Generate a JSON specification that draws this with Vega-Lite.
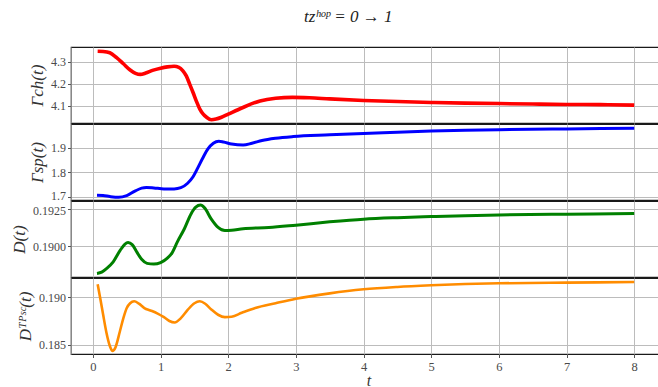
{
  "$schema": "https://vega.github.io/schema/vega-lite/v6.json",
  "padding": {"left": 9, "top": 8, "right": 0, "bottom": 0},
  "background": "white",
  "bounds": "flush",
  "title": {
    "text": "tzʰᵒᵖ = 0 → 1",
    "font": "Liberation Serif",
    "fontSize": 17,
    "fontWeight": "normal",
    "fontStyle": "italic",
    "color": "#222",
    "anchor": "middle",
    "offset": 20,
    "dx": 10
  },
  "datasets": {
    "gch": [
      {"t": 0.07, "v": 4.347}, {"t": 0.15, "v": 4.346}, {"t": 0.25, "v": 4.340}, {"t": 0.35, "v": 4.318},
      {"t": 0.45, "v": 4.290}, {"t": 0.55, "v": 4.262}, {"t": 0.63, "v": 4.247}, {"t": 0.70, "v": 4.242},
      {"t": 0.78, "v": 4.248}, {"t": 0.88, "v": 4.260}, {"t": 1.00, "v": 4.270}, {"t": 1.10, "v": 4.276},
      {"t": 1.20, "v": 4.279}, {"t": 1.27, "v": 4.274}, {"t": 1.33, "v": 4.258}, {"t": 1.38, "v": 4.235},
      {"t": 1.43, "v": 4.198}, {"t": 1.48, "v": 4.160}, {"t": 1.53, "v": 4.120}, {"t": 1.58, "v": 4.085},
      {"t": 1.63, "v": 4.062}, {"t": 1.68, "v": 4.048}, {"t": 1.75, "v": 4.037}, {"t": 1.82, "v": 4.040},
      {"t": 1.90, "v": 4.048}, {"t": 2.00, "v": 4.062}, {"t": 2.20, "v": 4.090}, {"t": 2.47, "v": 4.122},
      {"t": 2.70, "v": 4.134}, {"t": 2.95, "v": 4.138}, {"t": 3.20, "v": 4.136}, {"t": 3.50, "v": 4.131},
      {"t": 4.00, "v": 4.124}, {"t": 4.50, "v": 4.119}, {"t": 5.00, "v": 4.115}, {"t": 5.50, "v": 4.112},
      {"t": 6.00, "v": 4.110}, {"t": 6.50, "v": 4.108}, {"t": 7.00, "v": 4.106}, {"t": 7.50, "v": 4.105},
      {"t": 8.00, "v": 4.103}
    ],
    "gsp": [
      {"t": 0.06, "v": 1.707}, {"t": 0.15, "v": 1.706}, {"t": 0.25, "v": 1.702}, {"t": 0.38, "v": 1.699},
      {"t": 0.50, "v": 1.706}, {"t": 0.62, "v": 1.724}, {"t": 0.72, "v": 1.736}, {"t": 0.79, "v": 1.739},
      {"t": 0.90, "v": 1.737}, {"t": 1.05, "v": 1.733}, {"t": 1.20, "v": 1.733}, {"t": 1.30, "v": 1.738},
      {"t": 1.40, "v": 1.756}, {"t": 1.48, "v": 1.782}, {"t": 1.55, "v": 1.818}, {"t": 1.62, "v": 1.856},
      {"t": 1.70, "v": 1.895}, {"t": 1.78, "v": 1.918}, {"t": 1.86, "v": 1.926}, {"t": 1.93, "v": 1.923},
      {"t": 2.05, "v": 1.915}, {"t": 2.22, "v": 1.911}, {"t": 2.35, "v": 1.918}, {"t": 2.50, "v": 1.929},
      {"t": 2.70, "v": 1.938}, {"t": 2.96, "v": 1.945}, {"t": 3.50, "v": 1.952}, {"t": 4.00, "v": 1.958},
      {"t": 4.50, "v": 1.963}, {"t": 5.00, "v": 1.968}, {"t": 5.50, "v": 1.971}, {"t": 6.00, "v": 1.973},
      {"t": 7.00, "v": 1.976}, {"t": 8.00, "v": 1.979}
    ],
    "d": [
      {"t": 0.06, "v": 0.18818}, {"t": 0.13, "v": 0.18826}, {"t": 0.20, "v": 0.18850}, {"t": 0.30, "v": 0.18895},
      {"t": 0.40, "v": 0.18970}, {"t": 0.47, "v": 0.19012}, {"t": 0.52, "v": 0.19024}, {"t": 0.58, "v": 0.19010},
      {"t": 0.65, "v": 0.18960}, {"t": 0.72, "v": 0.18912}, {"t": 0.80, "v": 0.18885}, {"t": 0.90, "v": 0.18880},
      {"t": 1.00, "v": 0.18890}, {"t": 1.10, "v": 0.18920}, {"t": 1.17, "v": 0.18955}, {"t": 1.25, "v": 0.19030},
      {"t": 1.35, "v": 0.19114}, {"t": 1.45, "v": 0.19215}, {"t": 1.52, "v": 0.19260}, {"t": 1.59, "v": 0.19274},
      {"t": 1.65, "v": 0.19255}, {"t": 1.75, "v": 0.19180}, {"t": 1.85, "v": 0.19125}, {"t": 1.95, "v": 0.19104},
      {"t": 2.05, "v": 0.19106}, {"t": 2.22, "v": 0.19116}, {"t": 2.60, "v": 0.19124}, {"t": 3.00, "v": 0.19140},
      {"t": 3.50, "v": 0.19162}, {"t": 4.00, "v": 0.19180}, {"t": 4.50, "v": 0.19190}, {"t": 5.00, "v": 0.19197},
      {"t": 5.50, "v": 0.19203}, {"t": 6.00, "v": 0.19208}, {"t": 7.00, "v": 0.19213}, {"t": 8.00, "v": 0.19217}
    ],
    "dtpsc": [
      {"t": 0.07, "v": 0.19132}, {"t": 0.11, "v": 0.18980}, {"t": 0.15, "v": 0.18820}, {"t": 0.20, "v": 0.18628},
      {"t": 0.25, "v": 0.18490}, {"t": 0.29, "v": 0.18438}, {"t": 0.33, "v": 0.18470}, {"t": 0.40, "v": 0.18646},
      {"t": 0.45, "v": 0.18780}, {"t": 0.50, "v": 0.18885}, {"t": 0.55, "v": 0.18935}, {"t": 0.61, "v": 0.18955},
      {"t": 0.68, "v": 0.18930}, {"t": 0.76, "v": 0.18885}, {"t": 0.85, "v": 0.18860}, {"t": 0.95, "v": 0.18830},
      {"t": 1.05, "v": 0.18790}, {"t": 1.13, "v": 0.18750}, {"t": 1.21, "v": 0.18735}, {"t": 1.30, "v": 0.18780},
      {"t": 1.40, "v": 0.18865}, {"t": 1.50, "v": 0.18935}, {"t": 1.58, "v": 0.18955}, {"t": 1.66, "v": 0.18930},
      {"t": 1.75, "v": 0.18870}, {"t": 1.85, "v": 0.18815}, {"t": 1.95, "v": 0.18790}, {"t": 2.05, "v": 0.18795},
      {"t": 2.20, "v": 0.18835}, {"t": 2.40, "v": 0.18885}, {"t": 2.70, "v": 0.18935}, {"t": 3.00, "v": 0.18982},
      {"t": 3.50, "v": 0.19038}, {"t": 4.00, "v": 0.19080}, {"t": 4.50, "v": 0.19105}, {"t": 5.00, "v": 0.19122},
      {"t": 5.50, "v": 0.19135}, {"t": 6.00, "v": 0.19143}, {"t": 7.00, "v": 0.19150}, {"t": 8.00, "v": 0.19156}
    ]
  },
  "spacing": 1,
  "vconcat": [
    {
      "width": 595,
      "height": 76,
      "data": {"name": "gch"},
      "mark": {"type": "line", "color": "#ff0000", "strokeWidth": 3.6, "interpolate": "monotone", "clip": true},
      "encoding": {
        "x": {"field": "t", "type": "quantitative",
              "scale": {"domain": [-0.324, 8.47], "nice": false, "zero": false},
              "axis": {"values": [0, 1, 2, 3, 4, 5, 6, 7, 8], "labels": false, "ticks": false, "domain": false, "title": null}},
        "y": {"field": "v", "type": "quantitative",
              "scale": {"domain": [4.022, 4.366], "nice": false, "zero": false},
              "axis": {"values": [4.1, 4.2, 4.3], "format": ".1f", "title": "Γch(t)"}}
      }
    },
    {
      "width": 595,
      "height": 76,
      "data": {"name": "gsp"},
      "mark": {"type": "line", "color": "#0000ff", "strokeWidth": 3, "interpolate": "monotone", "clip": true},
      "encoding": {
        "x": {"field": "t", "type": "quantitative",
              "scale": {"domain": [-0.324, 8.47], "nice": false, "zero": false},
              "axis": {"values": [0, 1, 2, 3, 4, 5, 6, 7, 8], "labels": false, "ticks": false, "domain": false, "title": null}},
        "y": {"field": "v", "type": "quantitative",
              "scale": {"domain": [1.688, 1.996], "nice": false, "zero": false},
              "axis": {"values": [1.7, 1.8, 1.9], "format": ".1f", "title": "Γsp(t)",
                       "labelOffset": {"condition": {"test": "datum.value < 1.75", "value": -1.5}, "value": 0}}}
      }
    },
    {
      "width": 595,
      "height": 76,
      "data": {"name": "d"},
      "mark": {"type": "line", "color": "#008000", "strokeWidth": 3, "interpolate": "monotone", "clip": true},
      "encoding": {
        "x": {"field": "t", "type": "quantitative",
              "scale": {"domain": [-0.324, 8.47], "nice": false, "zero": false},
              "axis": {"values": [0, 1, 2, 3, 4, 5, 6, 7, 8], "labels": false, "ticks": false, "domain": false, "title": null}},
        "y": {"field": "v", "type": "quantitative",
              "scale": {"domain": [0.18794, 0.19301], "nice": false, "zero": false},
              "axis": {"values": [0.19, 0.1925], "format": ".4f", "title": "D(t)",
                       "labelOffset": {"condition": {"test": "datum.value > 0.192", "value": 1.5}, "value": 0}}}
      }
    },
    {
      "width": 595,
      "height": 76,
      "data": {"name": "dtpsc"},
      "mark": {"type": "line", "color": "#ff8c00", "strokeWidth": 2.6, "interpolate": "monotone", "clip": true},
      "encoding": {
        "x": {"field": "t", "type": "quantitative",
              "scale": {"domain": [-0.324, 8.47], "nice": false, "zero": false},
              "axis": {"values": [0, 1, 2, 3, 4, 5, 6, 7, 8], "format": "d", "title": "t",
                       "titleFontStyle": "italic", "titleFontSize": 16, "titlePadding": -1, "domain": false}},
        "y": {"field": "v", "type": "quantitative",
              "scale": {"domain": [0.18406, 0.19198], "nice": false, "zero": false},
              "axis": {"values": [0.185, 0.19], "format": ".3f", "title": "Dᵀᴾˢᶜ(t)"}}
      }
    }
  ],
  "config": {
    "view": {"stroke": "#1a1a1a", "strokeWidth": 1.2},
    "axis": {
      "labelFont": "Liberation Serif",
      "labelFontSize": 12,
      "labelColor": "#4a4a4a",
      "labelPadding": 2,
      "tickSize": 3.5,
      "tickColor": "#555",
      "tickWidth": 1,
      "grid": true,
      "gridColor": "#bcbcbc",
      "gridWidth": 1,
      "titleFont": "Liberation Serif",
      "titleFontSize": 17,
      "titleFontWeight": "normal",
      "titleFontStyle": "italic",
      "titleColor": "#333",
      "titlePadding": 4
    },
    "axisX": {"labelPadding": 3, "labelFontSize": 12.5}
  }
}
